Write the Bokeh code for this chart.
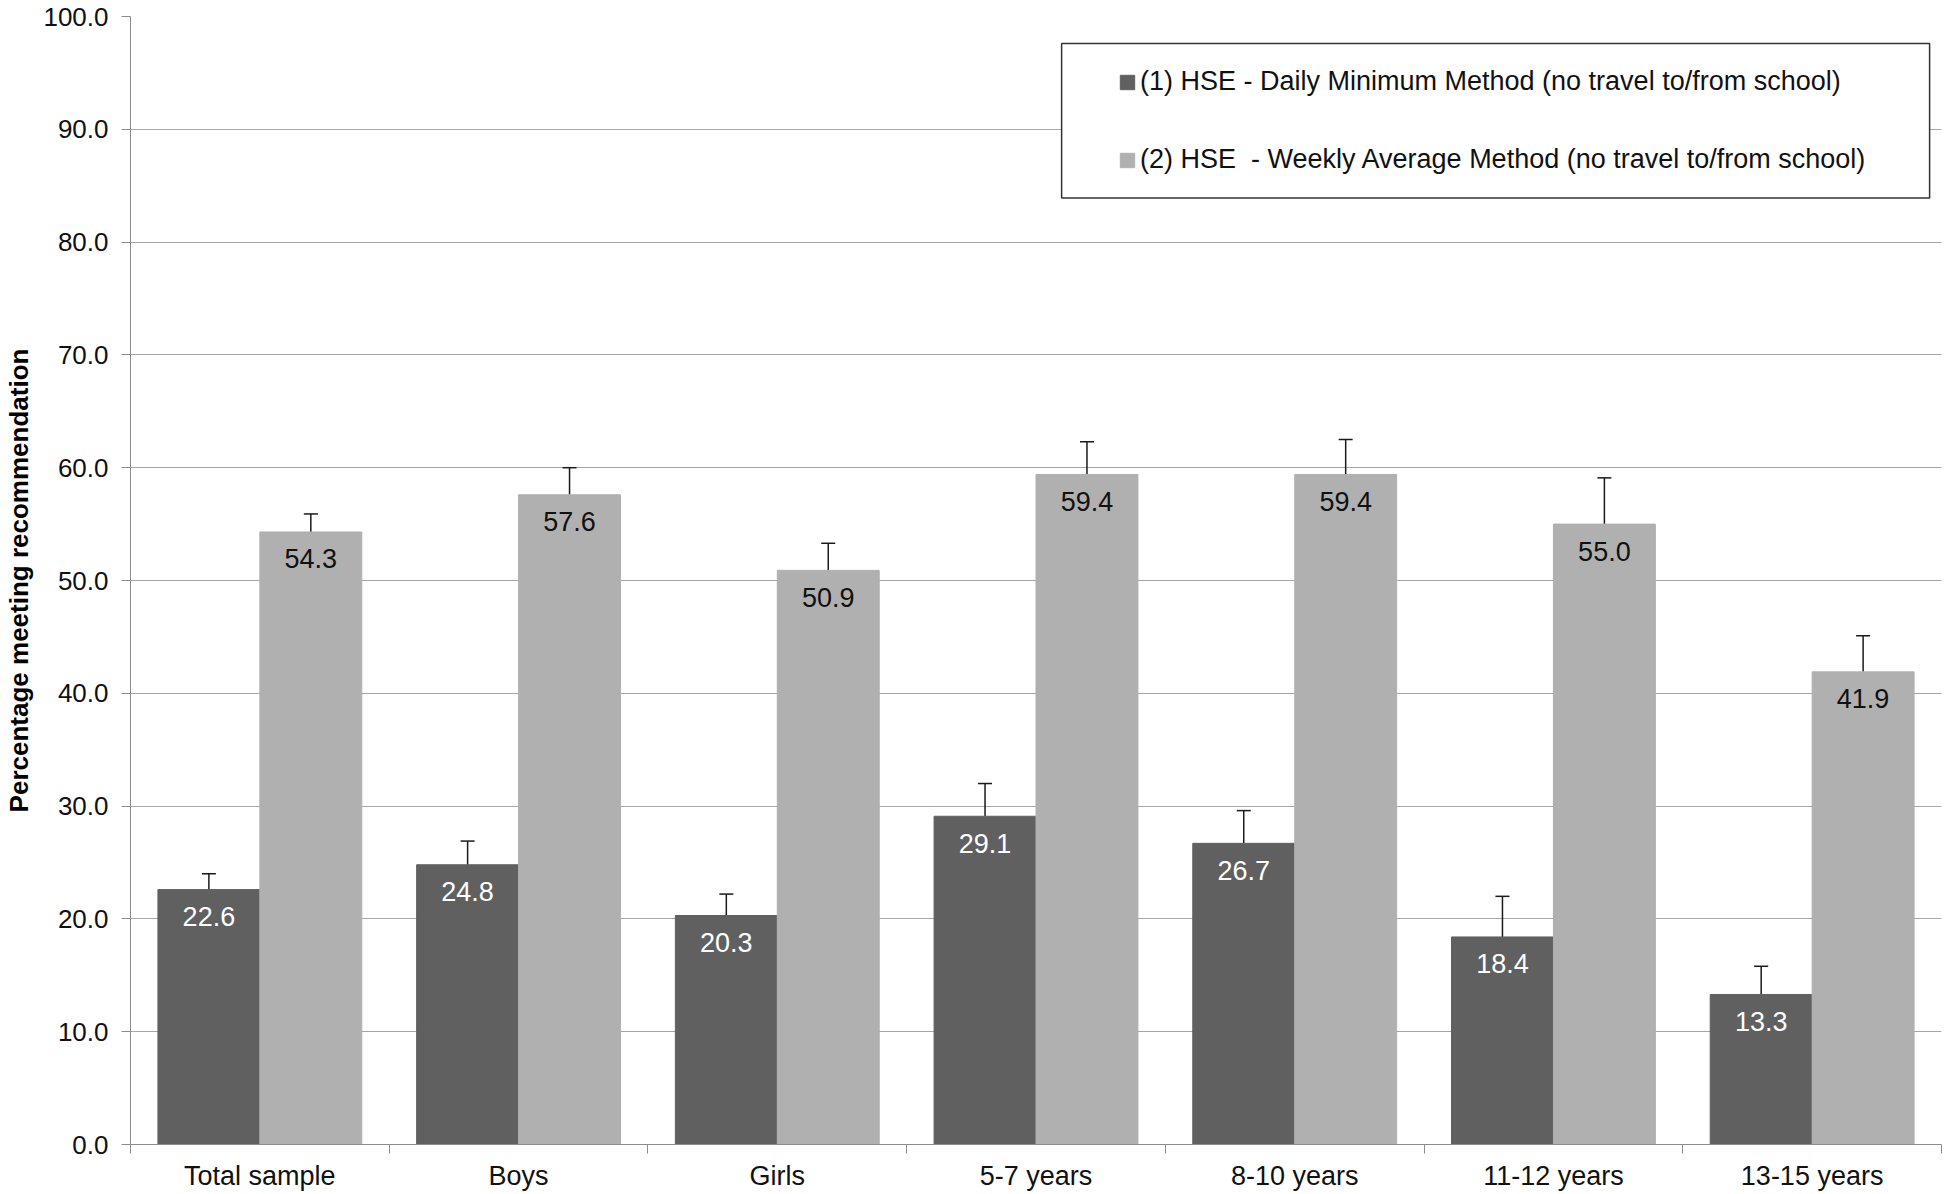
from bokeh.plotting import figure
from bokeh.models import (ColumnDataSource, Range1d, FixedTicker, NumeralTickFormatter,
                          Whisker, TeeHead, Legend, LegendItem, BoxAnnotation)
from bokeh.core.properties import value
from bokeh.embed import file_html
from bokeh.resources import INLINE

# ---- data ----
categories = ["Total sample", "Boys", "Girls", "5-7 years", "8-10 years", "11-12 years", "13-15 years"]
daily_min = [22.6, 24.8, 20.3, 29.1, 26.7, 18.4, 13.3]
weekly_avg = [54.3, 57.6, 50.9, 59.4, 59.4, 55.0, 41.9]
daily_min_upper = [24.0, 26.9, 22.2, 32.0, 29.6, 22.0, 15.8]
weekly_avg_upper = [55.9, 60.0, 53.3, 62.3, 62.5, 59.1, 45.1]
series_names = ["(1) HSE - Daily Minimum Method (no travel to/from school)",
                "(2) HSE  - Weekly Average Method (no travel to/from school)"]
y_ticks = [0, 10, 20, 30, 40, 50, 60, 70, 80, 90, 100]

FONT = "Liberation Sans"
DARK = "#606060"
LIGHT = "#b0b0b0"
AXIS = "#8c8c8c"
BAR_W = 0.394
OFF = 0.197

n = len(categories)
centers = [i + 0.5 for i in range(n)]

src_dark = ColumnDataSource(dict(
    x=[c - OFF for c in centers], top=daily_min, upper=daily_min_upper,
    lbl=[f"{v:.1f}" for v in daily_min]))
src_light = ColumnDataSource(dict(
    x=[c + OFF for c in centers], top=weekly_avg, upper=weekly_avg_upper,
    lbl=[f"{v:.1f}" for v in weekly_avg]))

p = figure(width=1946, height=1194, output_backend="svg", toolbar_location=None,
           x_range=Range1d(0, n), y_range=Range1d(0, 100),
           min_border_left=130, min_border_right=5, min_border_top=16, min_border_bottom=50)
p.outline_line_color = None
p.background_fill_color = "white"
p.border_fill_color = "white"

# grid
p.xgrid.grid_line_color = None
p.ygrid.grid_line_color = "#a6a6a6"
p.ygrid.grid_line_width = 1

# bars
r_dark = p.vbar(x="x", top="top", width=BAR_W, bottom=0, source=src_dark,
                fill_color=DARK, line_color=DARK)
r_light = p.vbar(x="x", top="top", width=BAR_W, bottom=0, source=src_light,
                 fill_color=LIGHT, line_color=LIGHT)

# error bars (upper only)
for src in (src_dark, src_light):
    w = Whisker(base="x", lower="top", upper="upper", source=src, dimension="height",
                line_color="#1a1a1a", line_width=1.5, lower_head=None,
                upper_head=TeeHead(size=14, line_color="#1a1a1a", line_width=1.5))
    p.add_layout(w)

# value labels
p.text(x="x", y="top", text="lbl", source=src_dark, text_align="center",
       text_baseline="middle", y_offset=27, text_color="white",
       text_font=value(FONT), text_font_size="27px")
p.text(x="x", y="top", text="lbl", source=src_light, text_align="center",
       text_baseline="middle", y_offset=27, text_color="#111111",
       text_font=value(FONT), text_font_size="27px")

# x axis: names at category centres, tick marks at category boundaries
xa = p.xaxis[0]
xa.ticker = FixedTicker(ticks=centers, minor_ticks=list(range(n + 1)))
xa.major_label_overrides = {c: cat for c, cat in zip(centers, categories)}
xa.major_tick_line_color = None
xa.major_tick_out = 0
xa.major_tick_in = 0
xa.minor_tick_line_color = AXIS
xa.minor_tick_out = 9
xa.minor_tick_in = 0
xa.axis_line_color = AXIS
xa.major_label_text_font = FONT
xa.major_label_text_font_size = "27px"
xa.major_label_text_color = "#111111"
xa.major_label_standoff = 7

# y axis
ya = p.yaxis[0]
ya.ticker = FixedTicker(ticks=y_ticks)
ya.formatter = NumeralTickFormatter(format="0.0")
ya.minor_tick_line_color = None
ya.major_tick_out = 9
ya.major_tick_in = 0
ya.major_tick_line_color = AXIS
ya.axis_line_color = AXIS
ya.major_label_text_font = FONT
ya.major_label_text_font_size = "26px"
ya.major_label_text_color = "#111111"
ya.major_label_standoff = 13
ya.axis_label = "Percentage meeting recommendation"
ya.axis_label_text_font = FONT
ya.axis_label_text_font_style = "bold"
ya.axis_label_text_font_size = "26px"
ya.axis_label_text_color = "#000000"
ya.axis_label_standoff = 6

# legend frame
box = BoxAnnotation(left=3.599, right=6.954, top=97.6, bottom=83.9,
                    fill_color="white", fill_alpha=1.0,
                    line_color="#333333", line_width=1.5, line_alpha=1.0)
p.add_layout(box)

legend = Legend(items=[LegendItem(label=series_names[0], renderers=[r_dark]),
                       LegendItem(label=series_names[1], renderers=[r_light])],
                location=(988, 969), orientation="vertical",
                padding=0, spacing=47, margin=0,
                glyph_width=18, glyph_height=18, label_height=30, label_standoff=4,
                label_text_font=FONT, label_text_font_size="27px",
                label_text_color="#111111",
                border_line_color=None, background_fill_alpha=0.0)
p.add_layout(legend, "center")

open("out.html", "w").write(file_html(p, INLINE))
